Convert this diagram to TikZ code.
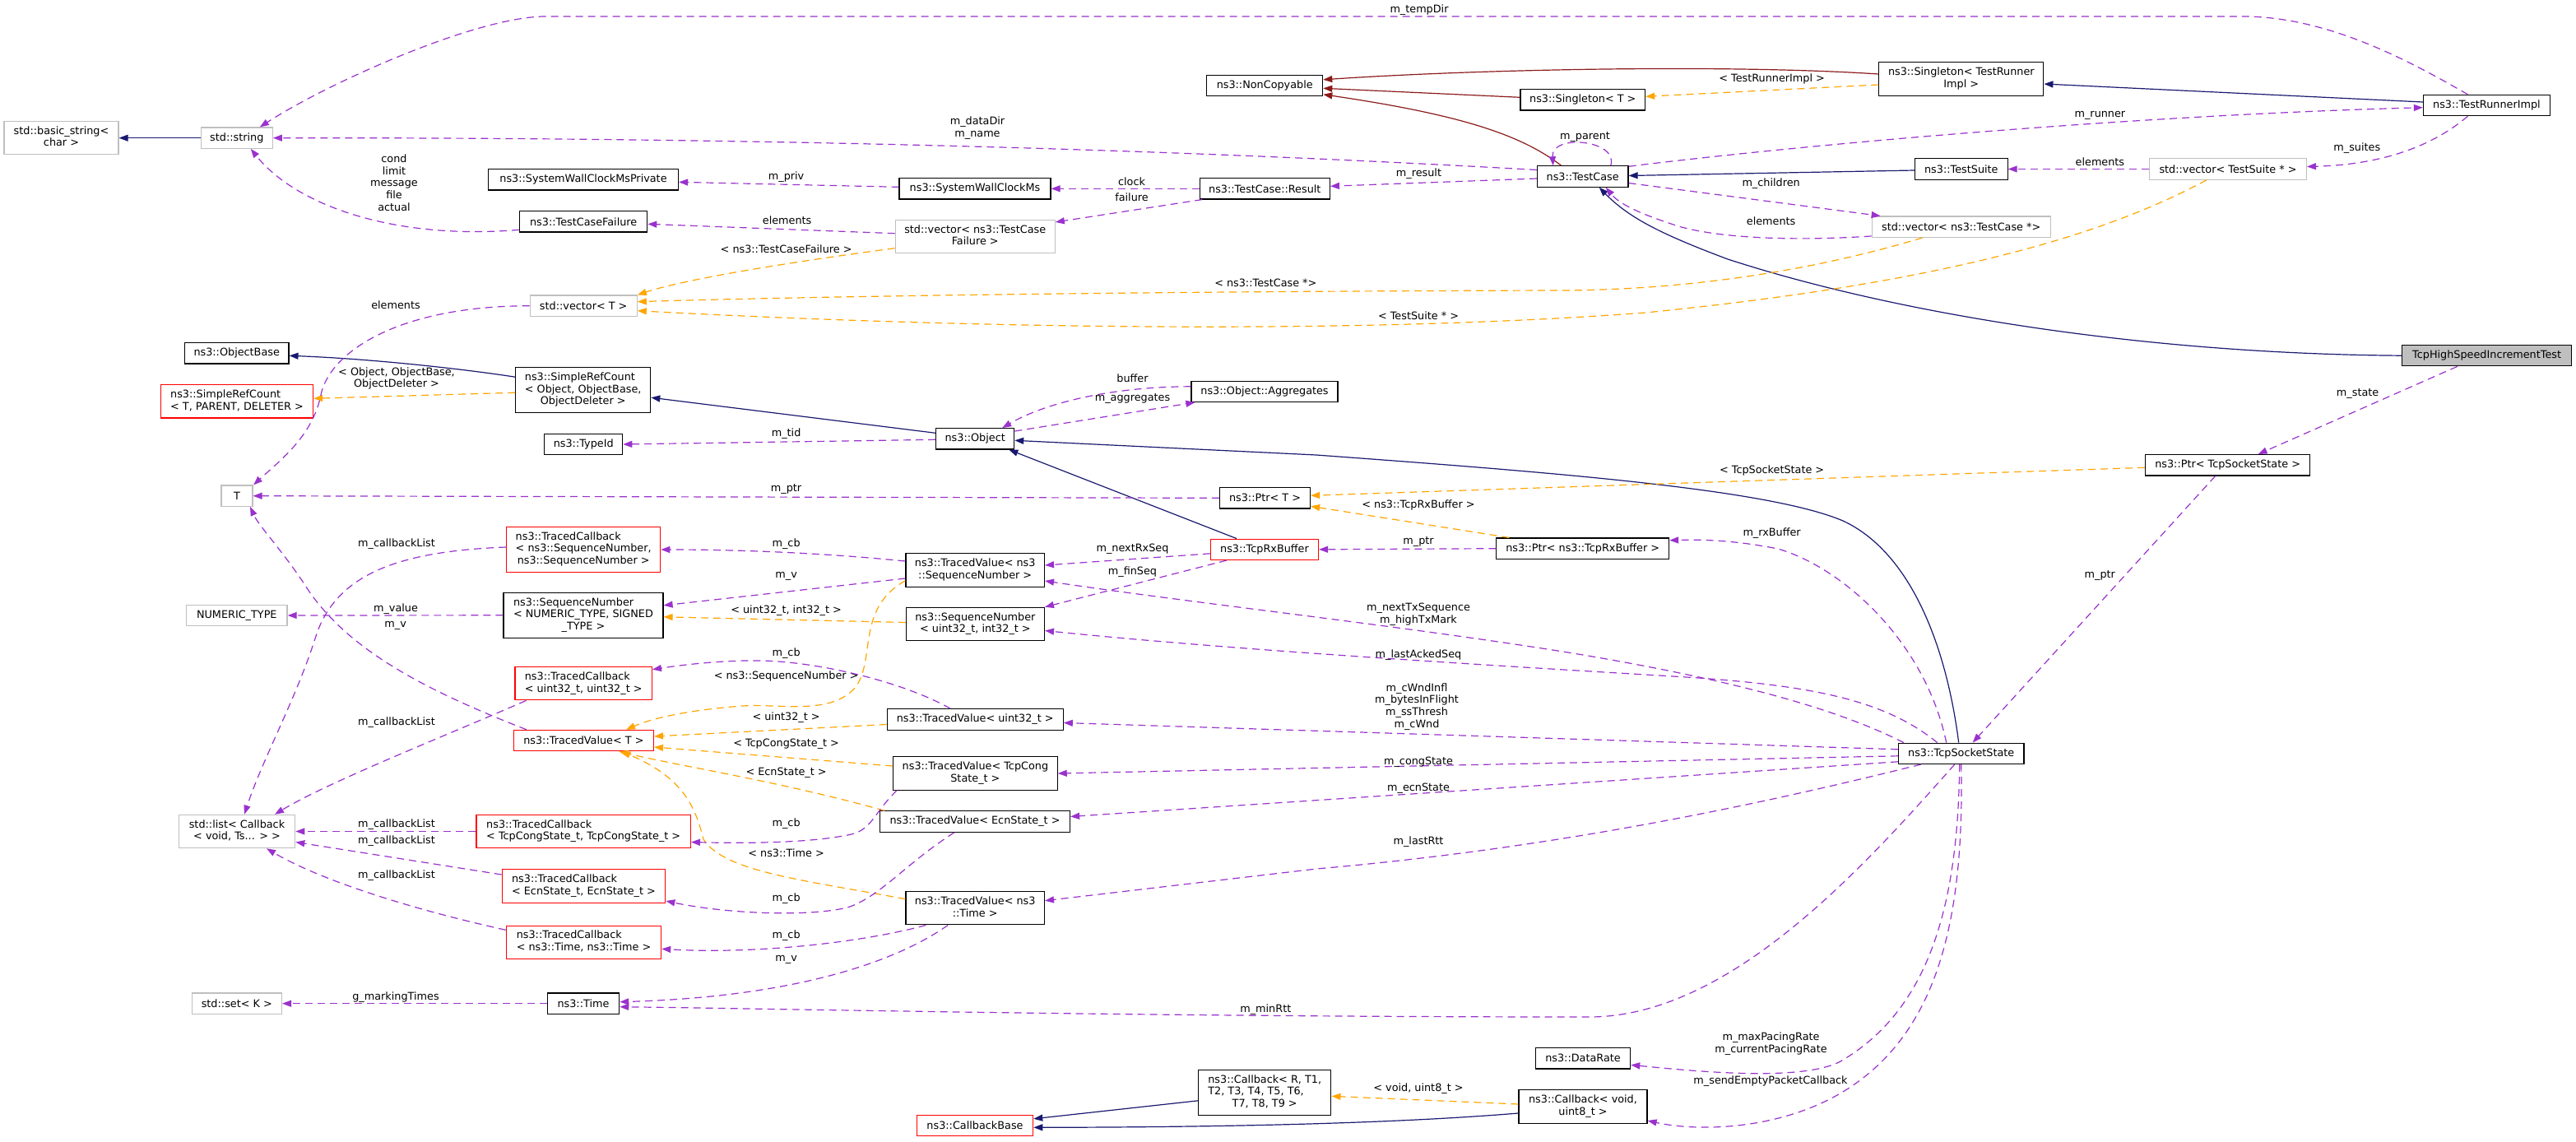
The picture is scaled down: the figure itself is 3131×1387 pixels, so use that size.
\documentclass[tikz,border=0pt]{standalone}
\usepackage{fontspec}
\setmainfont{DejaVu Sans}
\usetikzlibrary{arrows.meta,calc}
\definecolor{depc}{HTML}{9A32CD}
\definecolor{tplc}{HTML}{FFA500}
\definecolor{inhc}{HTML}{191970}
\definecolor{ncc}{HTML}{8B1A1A}
\definecolor{grayb}{HTML}{BFBFBF}
% first lines flush left, last line centred
\newcommand{\twoln}[2]{\begin{tabular}{@{}l@{}}#1\\\multicolumn{1}{@{}c@{}}{#2}\end{tabular}}
\tikzset{
  txt/.style={font=\fontsize{12.8}{14.7}\selectfont, inner sep=0pt},
  box/.style={txt, draw=black, line width=1.2pt, fill=white},
  graybox/.style={box, draw=grayb},
  redbox/.style={box, draw=red},
  mainbox/.style={box, fill=grayb},
  sz/.style 2 args={minimum width=#1pt, minimum height=#2pt},
  lbl/.style={txt, align=center},
  tip/.style={-{Triangle[length=11pt,width=8pt]}},
  dep/.style={tip, draw=depc, fill=none, line width=1.2pt, dash pattern=on 9pt off 6pt},
  tpl/.style={tip, draw=tplc, line width=1.2pt, dash pattern=on 9pt off 6pt},
  inh/.style={tip, draw=inhc, line width=1.2pt},
  ncinh/.style={tip, draw=ncc, line width=1.2pt},
}

\begin{document}
\begin{tikzpicture}[x=1pt,y=-1pt]
  \path[use as bounding box, fill=white] (0,0) rectangle (3131,1387);

  % left column
  \node[graybox, sz={139}{40.3}] (bstr) at (74.5,167.7) {\twoln{std::basic\_string<}{char >}};
  \node[graybox, sz={87}{25.3}] (str) at (287.8,167.7) {std::string};
  \node[box, sz={126.5}{25.3}] (objbase) at (287.7,429.3) {ns3::ObjectBase};
  \node[redbox, sz={185}{40.3}] (srcT) at (288,487.8) {\twoln{ns3::SimpleRefCount}{< T, PARENT, DELETER >}};
  \node[graybox, sz={38}{25.3}] (T) at (288,602.7) {T};
  \node[graybox, sz={122.5}{25.3}] (numt) at (287.8,748) {NUMERIC\_TYPE};
  \node[graybox, sz={141.4}{40.3}] (stdlist) at (288,1010.5) {\twoln{std::list< Callback}{< void, Ts... > >}};
  \node[graybox, sz={109.2}{25.3}] (stdset) at (287.8,1219.7) {std::set< K >};

  % second column
  \node[box, sz={231}{25.3}] (swcp) at (709,218.3) {ns3::SystemWallClockMsPrivate};
  \node[box, sz={155}{25.3}] (tcf) at (709.2,269.3) {ns3::TestCaseFailure};
  \node[graybox, sz={130}{25.3}] (vect) at (709.2,371.7) {std::vector< T >};
  \node[box, sz={164}{55}] (srcobj) at (708.7,474.2) {\twoln{ns3::SimpleRefCount\\< Object, ObjectBase,}{ObjectDeleter >}};
  \node[box, sz={95}{25.3}] (typeid) at (709.2,540) {ns3::TypeId};
  \node[redbox, sz={187}{54.7}] (tcbsn) at (709.2,668) {\twoln{ns3::TracedCallback\\< ns3::SequenceNumber,}{ns3::SequenceNumber >}};
  \node[box, sz={194}{54.7}] (snnt) at (709,747.8) {\twoln{ns3::SequenceNumber\\< NUMERIC\_TYPE, SIGNED}{\_TYPE >}};
  \node[redbox, sz={166.3}{40.3}] (tcbu32) at (709.2,830.7) {\twoln{ns3::TracedCallback}{< uint32\_t, uint32\_t >}};
  \node[redbox, sz={170}{25.3}] (tvT) at (709.4,900) {ns3::TracedValue< T >};
  \node[redbox, sz={260.3}{40.3}] (tcbtcs) at (709.2,1010.5) {\twoln{ns3::TracedCallback}{< TcpCongState\_t, TcpCongState\_t >}};
  \node[redbox, sz={198.5}{40.3}] (tcbecn) at (709.5,1077) {\twoln{ns3::TracedCallback}{< EcnState\_t, EcnState\_t >}};
  \node[redbox, sz={188.3}{40.3}] (tcbtime) at (709.5,1145.3) {\twoln{ns3::TracedCallback}{< ns3::Time, ns3::Time >}};
  \node[box, sz={87.3}{25.3}] (time) at (709,1219.7) {ns3::Time};

  % third column
  \node[box, sz={184}{25.3}] (swc) at (1185,229.3) {ns3::SystemWallClockMs};
  \node[graybox, sz={194}{40.3}] (vectcf) at (1185.2,287.7) {\twoln{std::vector< ns3::TestCase}{Failure >}};
  \node[box, sz={95}{25.3}] (object) at (1185.2,533.3) {ns3::Object};
  \node[box, sz={168.4}{40.3}] (tvsn) at (1185.2,693) {\twoln{ns3::TracedValue< ns3}{::SequenceNumber >}};
  \node[box, sz={168}{40.3}] (snu32) at (1185.4,758.5) {\twoln{ns3::SequenceNumber}{< uint32\_t, int32\_t >}};
  \node[box, sz={214}{25.3}] (tvu32) at (1185.2,874.5) {ns3::TracedValue< uint32\_t >};
  \node[box, sz={199.5}{40.3}] (tvtcs) at (1185.4,940) {\twoln{ns3::TracedValue< TcpCong}{State\_t >}};
  \node[box, sz={231}{25.3}] (tvecn) at (1185,998.5) {ns3::TracedValue< EcnState\_t >};
  \node[box, sz={168.4}{40.3}] (tvtime) at (1185.2,1103.7) {\twoln{ns3::TracedValue< ns3}{::Time >}};
  \node[redbox, sz={141.3}{25.3}] (cbbase) at (1185,1367.8) {ns3::CallbackBase};

  % fourth column
  \node[box, sz={141}{25.3}] (noncopy) at (1537.2,103.8) {ns3::NonCopyable};
  \node[box, sz={158}{25.3}] (result) at (1537.3,229.3) {ns3::TestCase::Result};
  \node[box, sz={178}{25.3}] (aggr) at (1537,475.8) {ns3::Object::Aggregates};
  \node[box, sz={110}{25.3}] (ptrT) at (1537.5,605.3) {ns3::Ptr< T >};
  \node[redbox, sz={131}{25.3}] (rxbuf) at (1537,667.8) {ns3::TcpRxBuffer};
  \node[box, sz={161.3}{54.7}] (cbR) at (1537.2,1327.8) {\twoln{ns3::Callback< R, T1,\\T2, T3, T4, T5, T6,}{T7, T8, T9 >}};

  % fifth column
  \node[box, sz={151.5}{25.3}] (singT) at (1923.8,121.3) {ns3::Singleton< T >};
  \node[box, sz={110.7}{25.3}] (tc) at (1923.7,214.5) {ns3::TestCase};
  \node[box, sz={209.7}{25.3}] (ptrrx) at (1923.7,666.7) {ns3::Ptr< ns3::TcpRxBuffer >};
  \node[box, sz={115.3}{25.3}] (datarate) at (1924,1286.3) {ns3::DataRate};
  \node[box, sz={156}{40.3}] (cbvoid) at (1924,1345) {\twoln{ns3::Callback< void,}{uint8\_t >}};

  % right side
  \node[box, sz={200}{40.3}] (singTRI) at (2383.8,96) {\twoln{ns3::Singleton< TestRunner}{Impl >}};
  \node[box, sz={112.6}{25.3}] (suite) at (2383.8,205.5) {ns3::TestSuite};
  \node[graybox, sz={217}{25.3}] (vectc) at (2383.7,275.7) {std::vector< ns3::TestCase *>};
  \node[box, sz={152.6}{25.3}] (tss) at (2383.7,915.8) {ns3::TcpSocketState};
  \node[graybox, sz={190.7}{25.3}] (vects) at (2708,205.5) {std::vector< TestSuite * >};
  \node[box, sz={200.4}{25.3}] (ptrtss) at (2707.6,565.3) {ns3::Ptr< TcpSocketState >};
  \node[box, sz={154}{25.3}] (tri) at (3022.4,128) {ns3::TestRunnerImpl};
  \node[mainbox, sz={205.6}{25.3}] (main) at (3022.6,432.2) {TcpHighSpeedIncrementTest};

  % inheritance
  \draw[inh] (str.west) -- (bstr.east);
  \draw[inh] ($(srcobj.west)+(0,-16)$) .. controls (560,448) and (450,436) .. ($(objbase.east)+(0,3)$);
  \draw[inh] ($(object.west)+(0,-7)$) -- ($(srcobj.east)+(0,9)$);
  \draw[inh] ($(rxbuf.north)+(-34,0)$) -- ($(object.south east)+(-7,0)$);
  \draw[inh] ($(tss.north)+(-3,0)$) .. controls (2365,780) and (2320,670) .. (2240,633)
    .. controls (2150,595) and (1900,575) .. (1600,553) -- ($(object.east)+(0,2)$);
  \draw[inh] (main.west) .. controls (2600,430) and (2300,380) .. (2100,315)
    .. controls (2020,285) and (1980,265) .. ($(tc.south)+(20,0)$);
  \draw[inh] ($(suite.west)+(0,1.5)$) -- ($(tc.east)+(0,-1)$);
  \draw[inh] ($(tri.west)+(0,-4)$) -- ($(singTRI.east)+(0,6)$);
  \draw[inh] ($(cbR.west)+(0,10)$) -- ($(cbbase.east)+(0,-8)$);
  \draw[inh] ($(cbvoid.west)+(0,8)$) .. controls (1700,1365) and (1500,1370) .. ($(cbbase.east)+(0,2.5)$);
  \draw[ncinh] ($(singTRI.west)+(0,-6)$) .. controls (2100,78) and (1800,84) .. ($(noncopy.east)+(0,-7)$);
  \draw[ncinh] ($(singT.west)+(0,-3)$) -- ($(noncopy.east)+(0,3.5)$);
  \draw[ncinh] ($(tc.north)+(-26,0)$) .. controls (1850,165) and (1780,140) .. ($(noncopy.east)+(0,11)$);

  % template instances
  \draw[tpl] ($(singTRI.west)+(0,7)$) -- ($(singT.east)+(0,-4)$);
  \node[lbl] (l-trimpl) at (2153.6,96) {< TestRunnerImpl >};
  \draw[tpl] ($(vectcf.west)+(0,14)$) .. controls (950,320) and (830,340) .. (vect.north east);
  \node[lbl] (l-tcfail) at (955.6,302.3) {< ns3::TestCaseFailure >};
  \draw[tpl] ($(vectc.south)+(-47,0)$) .. controls (2200,330) and (2050,352) .. (1900,353)
    .. controls (1400,354) and (1000,360) .. ($(vect.east)+(0,-5)$);
  \node[lbl] (l-tcptr) at (1538.3,344.3) {< ns3::TestCase *>};
  \draw[tpl] ($(vects.south)+(-26,0)$) .. controls (2550,290) and (2350,345) .. (2000,380)
    .. controls (1600,410) and (1100,395) .. ($(vect.east)+(0,6)$);
  \node[lbl] (l-tsptr) at (1724,383.3) {< TestSuite * >};
  \draw[tpl] ($(srcobj.west)+(0,3)$) -- ($(srcT.east)+(0,-3.5)$);
  \node[lbl] (l-objdel) at (482,460) {< Object, ObjectBase,\\ObjectDeleter >};
  \draw[tpl] ($(snu32.west)+(0,-2)$) -- ($(snnt.east)+(0,2)$);
  \node[lbl] (l-u32i32) at (955.6,742.3) {< uint32\_t, int32\_t >};
  \draw[tpl] ($(tvsn.south west)+(0,-8)$) .. controls (1040,740) and (1065,800) .. (1040,835)
    .. controls (1010,870) and (950,855) .. (902,858)
    .. controls (850,862) and (800,870) .. ($(tvT.north east)+(-34,0)$);
  \node[lbl] (l-sn) at (955.6,822.3) {< ns3::SequenceNumber >};
  \draw[tpl] ($(tvu32.west)+(0,6)$) -- ($(tvT.east)+(0,-5)$);
  \node[lbl] (l-u32) at (955.6,872.3) {< uint32\_t >};
  \draw[tpl] ($(tvtcs.west)+(0,-9)$) -- ($(tvT.east)+(0,8)$);
  \node[lbl] (l-tcs) at (955.6,904) {< TcpCongState\_t >};
  \draw[tpl] ($(tvecn.north west)+(6,0)$) .. controls (950,950) and (820,930) .. ($(tvT.south)+(43,0)$);
  \node[lbl] (l-ecn) at (955.6,939.3) {< EcnState\_t >};
  \draw[tpl] ($(tvtime.west)+(0,-11)$) .. controls (980,1070) and (880,1060) .. (855,1020)
    .. controls (845,980) and (830,945) .. ($(tvT.south)+(46,0)$);
  \node[lbl] (l-time) at (955.6,1036.7) {< ns3::Time >};
  \draw[tpl] ($(ptrrx.north west)+(16,0)$) -- ($(ptrT.east)+(0,10)$);
  \node[lbl] (l-rxb) at (1724,614.3) {< ns3::TcpRxBuffer >};
  \draw[tpl] ($(ptrtss.west)+(0,3)$) -- ($(ptrT.east)+(0,-3)$);
  \node[lbl] (l-tss) at (2153.6,571.7) {< TcpSocketState >};
  \draw[tpl] ($(cbvoid.west)+(0,-3)$) -- ($(cbR.east)+(0,4.5)$);
  \node[lbl] (l-voidu8) at (1724,1323.3) {< void, uint8\_t >};

  % members: test framework
  \draw[dep] ($(tri.north)+(-23,0)$) .. controls (2930,75) and (2830,20) .. (2726,20) -- (663,20)
    .. controls (580,20) and (400,100) .. ($(str.north)+(28,0)$);
  \node[lbl] (l-tempdir) at (1725,11.7) {m\_tempDir};
  \draw[dep] ($(tc.west)+(0,-8)$) .. controls (1400,180) and (900,167) .. (str.east);
  \node[lbl] (l-datadir) at (1188,155.8) {m\_dataDir\\m\_name};
  \draw[dep] ($(tcf.west)+(0,10)$) .. controls (480,292) and (360,250) .. ($(str.south)+(17,0)$);
  \node[lbl] (l-cond) at (479,222) {cond\\limit\\message\\file\\actual};
  \draw[dep] (vect.west) .. controls (480,372) and (400,430) .. (390,480)
    .. controls (380,530) and (340,560) .. ($(T.north)+(20,0)$);
  \node[lbl] (l-elemT) at (481,371) {elements};
  \draw[dep] ($(swc.west)+(0,-2)$) -- ($(swcp.east)+(0,3)$);
  \node[lbl] (l-priv) at (955.6,215) {m\_priv};
  \draw[dep] (result.west) -- (swc.east);
  \node[lbl] (l-clock) at (1375.5,220.7) {clock};
  \draw[dep] ($(result.south west)+(3.5,0)$) -- ($(vectcf.north east)+(0,3)$);
  \node[lbl] (l-failure) at (1375.5,240) {failure};
  \draw[dep] ($(vectcf.west)+(0,-4)$) -- ($(tcf.east)+(0,3)$);
  \node[lbl] (l-elemTcf) at (956.6,267.3) {elements};
  \draw[dep] ($(tc.west)+(0,2.5)$) -- ($(result.east)+(0,-3)$);
  \node[lbl] (l-result) at (1724.5,211.3) {m\_result};
  \draw[dep] ($(tc.north)+(34,0)$) .. controls (1968,170) and (1885,162) .. ($(tc.north)+(-36,0)$);
  \node[lbl] (l-parent) at (1926.5,167) {m\_parent};
  \draw[dep] ($(tc.north east)+(0,1)$) .. controls (2200,175) and (2600,140) .. ($(tri.west)+(0,2.7)$);
  \node[lbl] (l-runner) at (2552.4,140) {m\_runner};
  \draw[dep] ($(tc.east)+(0,8)$) -- ($(vectc.north west)+(11,0)$);
  \node[lbl] (l-children) at (2152.6,223.3) {m\_children};
  \draw[dep] ($(vectc.south west)+(0,-2)$) .. controls (2200,292) and (2100,292) .. (2040,275)
    .. controls (2000,262) and (1970,250) .. ($(tc.south)+(28,0)$);
  \node[lbl] (l-elemTc) at (2152.6,268.7) {elements};
  \draw[dep] ($(tri.south)+(-23,0)$) .. controls (2960,175) and (2900,200) .. ($(vects.east)+(0,-3)$);
  \node[lbl] (l-suites) at (2864.8,180) {m\_suites};
  \draw[dep] (vects.west) -- (suite.east);
  \node[lbl] (l-elemTs) at (2552.4,196.7) {elements};

  % members: object model
  \draw[dep] ($(main.south)+(-36,0)$) -- ($(ptrtss.north)+(37,0)$);
  \node[lbl] (l-state) at (2865.6,479) {m\_state};
  \draw[dep] ($(ptrtss.south)+(-15,0)$) -- ($(tss.north)+(14,0)$);
  \node[lbl] (l-ptrtss) at (2552.3,700) {m\_ptr};
  \draw[dep] ($(aggr.west)+(0,-6)$) .. controls (1350,470) and (1270,490) .. ($(object.north)+(33,0)$);
  \node[lbl] (l-buffer) at (1376.5,460) {buffer};
  \draw[dep] ($(object.north east)+(0,4)$) -- ($(aggr.south west)+(5,0)$);
  \node[lbl] (l-aggr) at (1376.5,485) {m\_aggregates};
  \draw[dep] ($(object.west)+(0,1)$) -- (typeid.east);
  \node[lbl] (l-tid) at (955.6,526.7) {m\_tid};
  \draw[dep] (ptrT.west) -- (T.east);
  \node[lbl] (l-ptrT) at (955.6,595) {m\_ptr};
  \draw[dep] (ptrrx.west) -- (rxbuf.east);
  \node[lbl] (l-ptrrx) at (1724,659) {m\_ptr};
  \draw[dep] ($(tss.north)+(-18,0)$) .. controls (2340,780) and (2240,690) .. (2161,667)
    .. controls (2100,655) and (2060,656) .. ($(ptrrx.east)+(0,-10)$);
  \node[lbl] (l-rxbuf) at (2153.6,647.7) {m\_rxBuffer};
  \draw[dep] ($(rxbuf.west)+(0,5)$) -- ($(tvsn.east)+(0,-6)$);
  \node[lbl] (l-nextrx) at (1376.5,667.7) {m\_nextRxSeq};
  \draw[dep] ($(rxbuf.south west)+(20,0)$) -- (snu32.north east);
  \node[lbl] (l-finseq) at (1376.5,695) {m\_finSeq};

  % members: socket state
  \draw[dep] ($(tss.north west)+(7,0)$) .. controls (2230,860) and (2100,825) .. (1906,793)
    .. controls (1700,760) and (1450,733) .. ($(tvsn.east)+(0,13)$);
  \node[lbl] (l-nexttx) at (1724,747) {m\_nextTxSequence\\m\_highTxMark};
  \draw[dep] ($(tss.north)+(-29,0)$) .. controls (2290,850) and (2200,833) .. (2050,823)
    .. controls (1800,808) and (1500,790) .. ($(snu32.east)+(0,8)$);
  \node[lbl] (l-lastack) at (1724,795.7) {m\_lastAckedSeq};
  \draw[dep] ($(tss.west)+(0,-5)$) -- ($(tvu32.east)+(0,4)$);
  \node[lbl] (l-cwnd) at (1722,858.7) {m\_cWndInfl\\m\_bytesInFlight\\m\_ssThresh\\m\_cWnd};
  \draw[dep] ($(tss.west)+(0,3)$) -- (tvtcs.east);
  \node[lbl] (l-congstate) at (1724,926.7) {m\_congState};
  \draw[dep] ($(tss.west)+(0,10)$) -- ($(tvecn.east)+(0,-6)$);
  \node[lbl] (l-ecnstate) at (1724,958.7) {m\_ecnState};
  \draw[dep] ($(tss.south west)+(28,0)$) .. controls (2150,975) and (1900,1030) .. (1600,1056)
    -- ($(tvtime.east)+(0,-9)$);
  \node[lbl] (l-lastrtt) at (1724,1022.7) {m\_lastRtt};
  \draw[dep] ($(tss.south)+(-8,0)$) .. controls (2260,1060) and (2100,1236) .. (1931.6,1236)
    .. controls (1400,1236) and (950,1226) .. ($(time.east)+(0,4)$);
  \node[lbl] (l-minrtt) at (1538.3,1227.3) {m\_minRtt};
  \draw[dep] ($(tss.south)+(-2,0)$) .. controls (2380,1110) and (2340,1230) .. (2237,1290)
    .. controls (2190,1315) and (2060,1302) .. ($(datarate.east)+(0,8)$);
  \node[lbl] (l-pacing) at (2152.5,1268.3) {m\_maxPacingRate\\m\_currentPacingRate};
  \draw[dep] (tss.south) .. controls (2388,1130) and (2350,1260) .. (2240,1327)
    .. controls (2160,1375) and (2060,1375) .. ($(cbvoid.east)+(0,17)$);
  \node[lbl] (l-sendempty) at (2152,1314.3) {m\_sendEmptyPacketCallback};

  % members: traced values
  \draw[dep] ($(tvsn.west)+(0,-11)$) .. controls (1000,672) and (900,668) .. (tcbsn.east);
  \node[lbl] (l-cbsn) at (955.6,660.7) {m\_cb};
  \draw[dep] ($(tvsn.west)+(0,10)$) -- ($(snnt.east)+(0,-12)$);
  \node[lbl] (l-vsn) at (955.6,700.7) {m\_v};
  \draw[dep] ($(tvu32.north)+(-30,0)$) .. controls (1100,830) and (1000,805) .. (927,803)
    .. controls (880,802) and (830,808) .. ($(tcbu32.east)+(0,-17)$);
  \node[lbl] (l-cbu32) at (955.6,794.3) {m\_cb};
  \draw[dep] ($(tvtcs.south west)+(5,0)$) .. controls (1060,990) and (1060,1010) .. (1030,1015)
    .. controls (980,1025) and (900,1025) .. ($(tcbtcs.east)+(0,13)$);
  \node[lbl] (l-cbtcs) at (955.6,1000.7) {m\_cb};
  \draw[dep] ($(tvecn.south)+(-25,0)$) .. controls (1100,1050) and (1070,1090) .. (1030,1103)
    .. controls (980,1115) and (880,1110) .. ($(tcbecn.east)+(0,18)$);
  \node[lbl] (l-cbecn) at (955.6,1091.7) {m\_cb};
  \draw[dep] ($(tvtime.south west)+(25,0)$) .. controls (1050,1145) and (920,1160) .. ($(tcbtime.east)+(0,8)$);
  \node[lbl] (l-cbtime) at (955.6,1136.7) {m\_cb};
  \draw[dep] ($(tvtime.south)+(-33,0)$) .. controls (1080,1175) and (950,1212) .. ($(time.east)+(0,-2)$);
  \node[lbl] (l-vtime) at (955.6,1166.7) {m\_v};

  % members: left side
  \draw[dep] ($(tcbsn.west)+(0,-3)$) .. controls (480,670) and (410,700) .. (385,770)
    .. controls (360,850) and (320,920) .. ($(stdlist.north)+(9,0)$);
  \draw[dep] ($(tcbu32.south west)+(14,0)$) .. controls (540,895) and (400,950) .. ($(stdlist.north)+(46,0)$);
  \draw[dep] (tcbtcs.west) -- (stdlist.east);
  \draw[dep] ($(tcbecn.west)+(0,-14)$) -- ($(stdlist.east)+(0,13)$);
  \draw[dep] ($(tcbtime.west)+(0,-15)$) .. controls (500,1105) and (390,1070) .. ($(stdlist.south)+(36,0)$);
  \foreach \y [count=\i] in {660.7,878.3,1002.3,1022.3,1064.3}
    \node[lbl] (l-cbl\i) at (482,\y) {m\_callbackList};
  \draw[dep] (snnt.west) -- (numt.east);
  \node[lbl] (l-value) at (481,740) {m\_value};
  \draw[dep] ($(tvT.north west)+(16,0)$) .. controls (520,840) and (420,790) .. (370,710)
    .. controls (340,665) and (315,640) .. ($(T.south)+(16,0)$);
  \node[lbl] (l-vT) at (480.6,760) {m\_v};
  \draw[dep] (time.west) -- (stdset.east);
  \node[lbl] (l-marking) at (481,1211.7) {g\_markingTimes};
\end{tikzpicture}
\end{document}
